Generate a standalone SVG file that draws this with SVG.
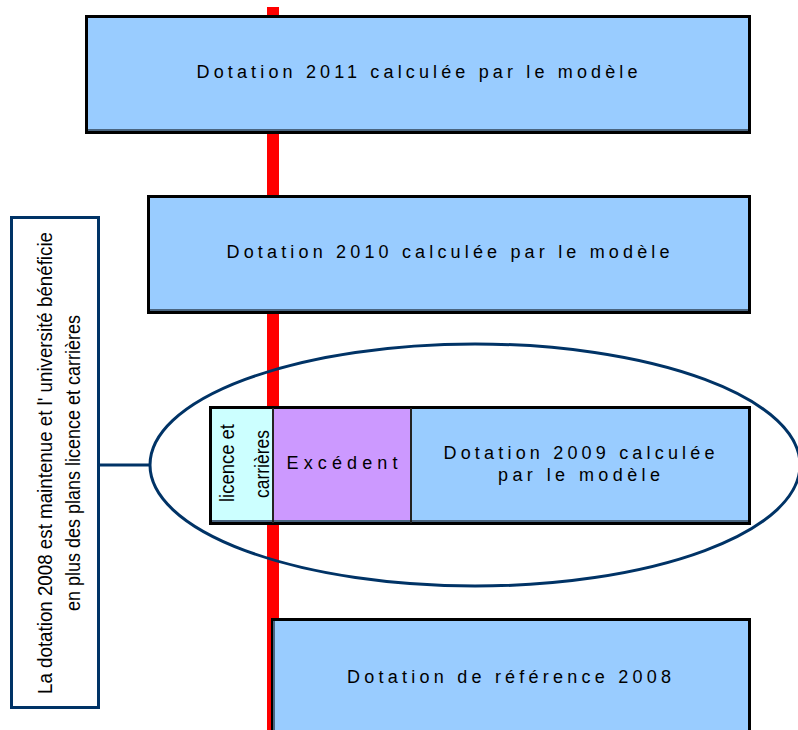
<svg xmlns="http://www.w3.org/2000/svg" width="798" height="730" viewBox="0 0 798 730">
<style>
.box{stroke:#000;stroke-width:3}
.blue{fill:#99CCFF}
.t{font-family:"Liberation Sans",Arial,sans-serif;font-size:18px;fill:#000;text-anchor:middle}
.n{font-family:"Liberation Sans",Arial,sans-serif;font-size:21px;fill:#000;text-anchor:middle}
.sh{stroke:#4a6580;stroke-width:2}
</style>
<rect width="798" height="730" fill="#fff"/>
<g id="timeline"><rect x="267" y="7" width="12" height="723" fill="#FF0000"/></g>
<g id="box2011">
<rect class="box blue" x="86.5" y="16.5" width="663" height="116"/>
<line class="sh" x1="88" y1="130" x2="748" y2="130"/>
<text class="t" x="417" y="78" textLength="441" lengthAdjust="spacing">Dotation 2011 calculée par le modèle</text>
</g>
<g id="box2010">
<rect class="box blue" x="148.5" y="196.5" width="601" height="116"/>
<line class="sh" x1="150" y1="310" x2="748" y2="310"/>
<text class="t" x="448" y="258" textLength="443" lengthAdjust="spacing">Dotation 2010 calculée par le modèle</text>
</g>
<g id="box2009">
<rect x="211" y="408" width="62" height="115" fill="#CCFFFF"/>
<rect x="273" y="408" width="138" height="115" fill="#CC99FF"/>
<rect x="411" y="408" width="338" height="115" fill="#99CCFF"/>
<line class="sh" x1="212" y1="521" x2="748" y2="521"/>
<rect x="210.5" y="407.5" width="539" height="116" fill="none" stroke="#000" stroke-width="3"/>
<line x1="273" y1="408" x2="273" y2="523" stroke="#222" stroke-width="2"/>
<line x1="411" y1="408" x2="411" y2="523" stroke="#222" stroke-width="2"/>
<text class="n" transform="translate(234,463) rotate(-90)" textLength="78" lengthAdjust="spacingAndGlyphs">licence et</text>
<text class="n" transform="translate(269,464) rotate(-90)" textLength="68" lengthAdjust="spacingAndGlyphs">carrières</text>
<text class="t" x="342" y="469" textLength="111" lengthAdjust="spacing">Excédent</text>
<text class="t" x="579" y="459" textLength="271" lengthAdjust="spacing">Dotation 2009 calculée</text>
<text class="t" x="579" y="481" textLength="162" lengthAdjust="spacing">par le modèle</text>
</g>
<g id="box2008">
<rect class="box blue" x="272.5" y="619.5" width="477" height="116"/>
<line x1="274" y1="621" x2="274" y2="730" stroke="#4a6580" stroke-width="2"/>
<text class="t" x="509" y="683" textLength="324" lengthAdjust="spacing">Dotation de référence 2008</text>
</g>
<g id="ellipse"><ellipse cx="475" cy="465" rx="325" ry="121" fill="none" stroke="#003366" stroke-width="3"/></g>
<g id="note">
<rect x="11.5" y="217.5" width="87" height="490" fill="#fff" stroke="#003366" stroke-width="3"/>
<text class="n" transform="translate(52,463) rotate(-90)" textLength="462" lengthAdjust="spacingAndGlyphs">La dotation 2008 est maintenue et  l' université bénéficie</text>
<text class="n" transform="translate(80,463) rotate(-90)" textLength="296" lengthAdjust="spacingAndGlyphs">en plus des plans licence et carrières</text>
</g>
<g id="connectors"><line x1="99" y1="465" x2="151" y2="465" stroke="#003366" stroke-width="3"/></g>
</svg>
